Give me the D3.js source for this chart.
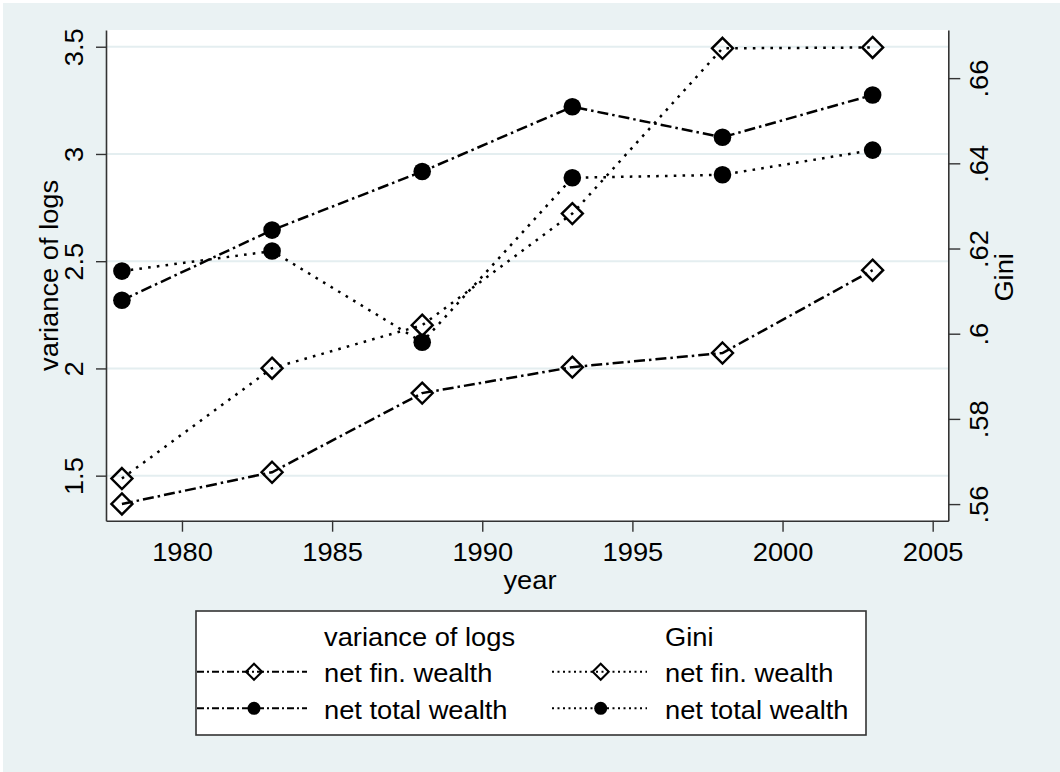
<!DOCTYPE html>
<html>
<head>
<meta charset="utf-8">
<script src="https://cdn.jsdelivr.net/npm/d3@7"></script>
<style>
  html, body { margin: 0; padding: 0; background: #ffffff; }
  svg { display: block; }
  text { font-family: "Liberation Sans", Arial, Helvetica, sans-serif; fill: #000; }
</style>
</head>
<body>
<svg id="chart" width="1060" height="772"></svg>
<script>
// ---- data ----
const years = [1978, 1983, 1988, 1993, 1998, 2003];
const varFinWealth = [1.368, 1.516, 1.885, 2.006, 2.072, 2.458];
const varTotalWealth = [2.318, 2.645, 2.918, 3.220, 3.078, 3.275];
const giniFinWealth = [0.5660, 0.5919, 0.6020, 0.6282, 0.6670, 0.6672];
const giniTotalWealth = [0.6147, 0.6194, 0.5980, 0.6366, 0.6373, 0.6431];

const xTicks = [1980, 1985, 1990, 1995, 2000, 2005];
const leftTicks = [1.5, 2, 2.5, 3, 3.5];
const leftTickLabels = ["1.5", "2", "2.5", "3", "3.5"];
const rightTicks = [0.56, 0.58, 0.60, 0.62, 0.64, 0.66];
const rightTickLabels = [".56", ".58", ".6", ".62", ".64", ".66"];

const xTitle = "year";
const leftTitle = "variance of logs";
const rightTitle = "Gini";
const legendHeaders = ["variance of logs", "Gini"];
const legendLabels = ["net fin. wealth", "net total wealth"];

// ---- layout ----
const W = 1060, H = 772;
const plot = { left: 106, right: 948.3, top: 30, bottom: 520.7 };
const BG = "#eaf2f3";
const GRID = "#e4eef0";
const AXIS = "#333333";
const FS = 26;
const SX = 1.05; // slight horizontal stretch of the text

const svg = d3.select("#chart");
svg.append("rect").attr("x", 0).attr("y", 0).attr("width", W).attr("height", H).attr("fill", "#ffffff");
svg.append("rect").attr("x", 3).attr("y", 3).attr("width", W - 3).attr("height", H - 3).attr("fill", BG);
svg.append("rect").attr("x", plot.left).attr("y", plot.top)
  .attr("width", plot.right - plot.left).attr("height", plot.bottom - plot.top).attr("fill", "#ffffff");

const x = d3.scaleLinear().domain([1977.47, 2005.52]).range([plot.left, plot.right]);
const yL = d3.scaleLinear().domain([1.29, 3.578]).range([plot.bottom, plot.top]);
const yR = d3.scaleLinear().domain([0.5561, 0.6713]).range([plot.bottom, plot.top]);

// gridlines
svg.append("g").selectAll("line").data(leftTicks).join("line")
  .attr("x1", plot.left).attr("x2", plot.right)
  .attr("y1", d => yL(d)).attr("y2", d => yL(d))
  .attr("stroke", GRID).attr("stroke-width", 2);

function styleAxis(g) {
  g.select(".domain").attr("stroke", AXIS).attr("stroke-width", 1.6);
  g.selectAll(".tick line").attr("stroke", AXIS).attr("stroke-width", 1.4);
  g.selectAll("text").attr("font-size", FS).attr("fill", "#000")
    .attr("font-family", "Liberation Sans, Arial, sans-serif");
}

// bottom axis
const gx = svg.append("g").attr("transform", `translate(0,${plot.bottom})`)
  .call(d3.axisBottom(x).tickValues(xTicks).tickFormat(d3.format("d")).tickSize(11).tickSizeOuter(0));
styleAxis(gx);
gx.selectAll(".tick text").attr("y", null).attr("dy", null).attr("transform", `translate(0,40) scale(${SX},1)`);

// left axis
const gl = svg.append("g").attr("transform", `translate(${plot.left},0)`)
  .call(d3.axisLeft(yL).tickValues(leftTicks).tickFormat((d, i) => leftTickLabels[i]).tickSize(10).tickSizeOuter(0));
styleAxis(gl);
gl.selectAll(".tick text").attr("x", null).attr("dy", null)
  .attr("text-anchor", "middle").attr("transform", `translate(-23,0) rotate(-90) scale(${SX},1)`);

// right axis
const gr = svg.append("g").attr("transform", `translate(${plot.right},0)`)
  .call(d3.axisRight(yR).tickValues(rightTicks).tickFormat((d, i) => rightTickLabels[i]).tickSize(12).tickSizeOuter(0));
styleAxis(gr);
gr.selectAll(".tick text").attr("x", null).attr("dy", null)
  .attr("text-anchor", "middle").attr("transform", `translate(40,0) rotate(-90) scale(${SX},1)`);

// axis titles
svg.append("text").attr("text-anchor", "middle").attr("font-size", FS)
  .attr("transform", `translate(530,589) scale(${SX},1)`).text(xTitle);
svg.append("text").attr("text-anchor", "middle").attr("font-size", FS)
  .attr("transform", `translate(57.5,${(plot.top + plot.bottom) / 2}) rotate(-90) scale(${SX},1)`).text(leftTitle);
svg.append("text").attr("text-anchor", "middle").attr("font-size", FS)
  .attr("transform", `translate(1013,${(plot.top + plot.bottom) / 2 + 2}) rotate(-90) scale(${SX},1)`).text(rightTitle);

// series
const DASHDOT = "11,4,2.5,4";
const DOT = "2.6,6.2";
const series = [
  { vals: varFinWealth, y: yL, dash: DASHDOT, marker: "diamond" },
  { vals: varTotalWealth, y: yL, dash: DASHDOT, marker: "circle" },
  { vals: giniFinWealth, y: yR, dash: DOT, marker: "diamond" },
  { vals: giniTotalWealth, y: yR, dash: DOT, marker: "circle" }
];

const diamondPath = (cx, cy, r) => `M${cx},${cy - r}L${cx + r},${cy}L${cx},${cy + r}L${cx - r},${cy}Z`;

function drawMarker(g, type, cx, cy, big) {
  if (type === "circle") {
    g.append("circle").attr("cx", cx).attr("cy", cy).attr("r", big ? 8.8 : 6.5).attr("fill", "#000");
  } else {
    g.append("path").attr("d", diamondPath(cx, cy, big ? 10.5 : 8))
      .attr("fill", "none").attr("stroke", "#000").attr("stroke-width", big ? 2.4 : 2.1)
      .attr("stroke-linejoin", "miter");
  }
}

const gs = svg.append("g");
series.forEach(s => {
  const line = d3.line().x((d, i) => x(years[i])).y(d => s.y(d));
  gs.append("path").datum(s.vals).attr("d", line)
    .attr("fill", "none").attr("stroke", "#000").attr("stroke-width", 2.5)
    .attr("stroke-dasharray", s.dash);
});
series.forEach(s => {
  s.vals.forEach((v, i) => drawMarker(gs, s.marker, x(years[i]), s.y(v), true));
});

// legend
const lg = svg.append("g");
lg.append("rect").attr("x", 196).attr("y", 611).attr("width", 670).attr("height", 124)
  .attr("fill", "#ffffff").attr("stroke", AXIS).attr("stroke-width", 1.6);

const cols = [
  { x0: 197, x1: 307, mx: 254, tx: 324, dash: "7,3,2,3" },
  { x0: 552, x1: 647, mx: 600.7, tx: 665, dash: "2,3.5" }
];
const rowY = [671.7, 708.3];
const rowBase = [682, 719];
const markers = ["diamond", "circle"];
cols.forEach((c, ci) => {
  lg.append("text").attr("font-size", FS)
    .attr("transform", `translate(${c.tx},646) scale(${SX},1)`).text(legendHeaders[ci]);
  legendLabels.forEach((lab, ri) => {
    lg.append("line").attr("x1", c.x0).attr("x2", c.x1).attr("y1", rowY[ri]).attr("y2", rowY[ri])
      .attr("stroke", "#000").attr("stroke-width", 2).attr("stroke-dasharray", c.dash);
    drawMarker(lg, markers[ri], c.mx, rowY[ri], false);
    lg.append("text").attr("font-size", FS)
      .attr("transform", `translate(${c.tx},${rowBase[ri]}) scale(${SX},1)`).text(lab);
  });
});
</script>
</body>
</html>
